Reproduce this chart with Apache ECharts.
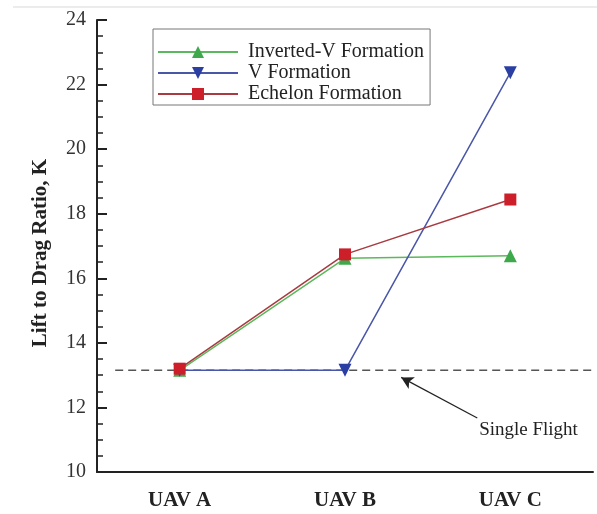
<!DOCTYPE html>
<html>
<head>
<meta charset="utf-8">
<script src="https://cdn.jsdelivr.net/npm/echarts@6/dist/echarts.min.js"></script>
<style>html,body{margin:0;padding:0;background:#fff;}#c{width:597px;height:514px;}</style>
</head>
<body>
<div id="c"></div>
<script>
const categories = ['UAV A', 'UAV B', 'UAV C'];
const invertedV = [13.15, 16.62, 16.7];
const vFormation = [13.15, 13.15, 22.37];
const echelon = [13.2, 16.74, 18.44];
const seriesNames = ['Inverted-V Formation', 'V Formation', 'Echelon Formation'];
const yMin = 10, yMax = 24, yInterval = 2;
const singleFlightK = 13.15;
const singleFlightSpan = [0.11, 3];      // along category bands (0..3)
const arrowFrom = [2.30, 11.67];
const arrowTo = [1.84, 12.93];
const annotationPos = [2.61, 11.3];
const annotationText = 'Single Flight';

const serif = '"Liberation Serif", "DejaVu Serif", serif';
const chart = echarts.init(document.getElementById('c'), null, {renderer: 'canvas'});
chart.setOption({
  animation: false,
  backgroundColor: '#fff',
  grid: {left: 97, right: 4, top: 20, bottom: 42, containLabel: false},
  graphic: [{type: 'line', shape: {x1: 13, y1: 7, x2: 597, y2: 7}, style: {stroke: '#e6e6e6', lineWidth: 1.5}, silent: true}],
  legend: {
    data: seriesNames,
    orient: 'vertical',
    left: 153, top: 29,
    itemWidth: 80, itemHeight: 15, itemGap: 1,
    padding: [13, 6, 1, 4],
    borderColor: '#777', borderWidth: 1,
    textStyle: {fontFamily: serif, fontSize: 20, color: '#222', padding: [0, 0, 0, 5]}
  },
  xAxis: [{
    type: 'category', data: categories, boundaryGap: true,
    axisLine: {lineStyle: {color: '#222', width: 2}},
    axisTick: {show: false},
    axisLabel: {fontFamily: serif, fontWeight: 'bold', fontSize: 21, color: '#222', margin: 18},
    splitLine: {show: false}
  }, {
    type: 'value', min: 0, max: 3, show: false
  }],
  yAxis: {
    type: 'value', min: yMin, max: yMax, interval: yInterval,
    name: 'Lift to Drag Ratio, K', nameLocation: 'middle', nameGap: 46,
    nameTextStyle: {fontFamily: serif, fontWeight: 'bold', fontSize: 21, color: '#222', padding: [0, 14, 0, 0]},
    axisLine: {show: true, lineStyle: {color: '#222', width: 2}},
    axisTick: {show: true, inside: true, length: 10, lineStyle: {color: '#222', width: 2}},
    minorTick: {show: true, splitNumber: 4, length: 6, lineStyle: {color: '#222', width: 1.5}},
    axisLabel: {fontFamily: serif, fontSize: 20, color: '#333', margin: 11},
    splitLine: {show: false}
  },
  series: [{
    name: 'Single Flight', type: 'line', xAxisIndex: 1,
    data: [[singleFlightSpan[0], singleFlightK], [singleFlightSpan[1], singleFlightK]],
    symbol: 'none', silent: true,
    lineStyle: {color: '#555', width: 1.5, type: [8, 5]},
    markLine: {
      silent: true, animation: false,
      symbol: ['none', 'arrow'], symbolSize: [10, 12],
      lineStyle: {color: '#222', width: 1.2, type: 'solid'},
      label: {show: false},
      data: [[{coord: arrowFrom}, {coord: arrowTo}]]
    },
    markPoint: {
      silent: true, symbol: 'circle', symbolSize: 0,
      label: {show: true, formatter: annotationText, fontFamily: serif, fontSize: 19, color: '#222', position: 'inside'},
      data: [{coord: annotationPos}]
    }
  }, {
    name: seriesNames[0], type: 'line', data: invertedV,
    symbol: 'triangle', symbolSize: 13,
    itemStyle: {color: '#3da94a'},
    lineStyle: {color: '#5cb85c', width: 1.5}
  }, {
    name: seriesNames[1], type: 'line', data: vFormation,
    symbol: 'triangle', symbolRotate: 180, symbolSize: 13,
    itemStyle: {color: '#2b3fa3'},
    lineStyle: {color: '#4a56a8', width: 1.5}
  }, {
    name: seriesNames[2], type: 'line', data: echelon,
    symbol: 'rect', symbolSize: 12,
    itemStyle: {color: '#cc1f2a'},
    lineStyle: {color: '#a83a40', width: 1.5}
  }]
});
</script>
</body>
</html>
